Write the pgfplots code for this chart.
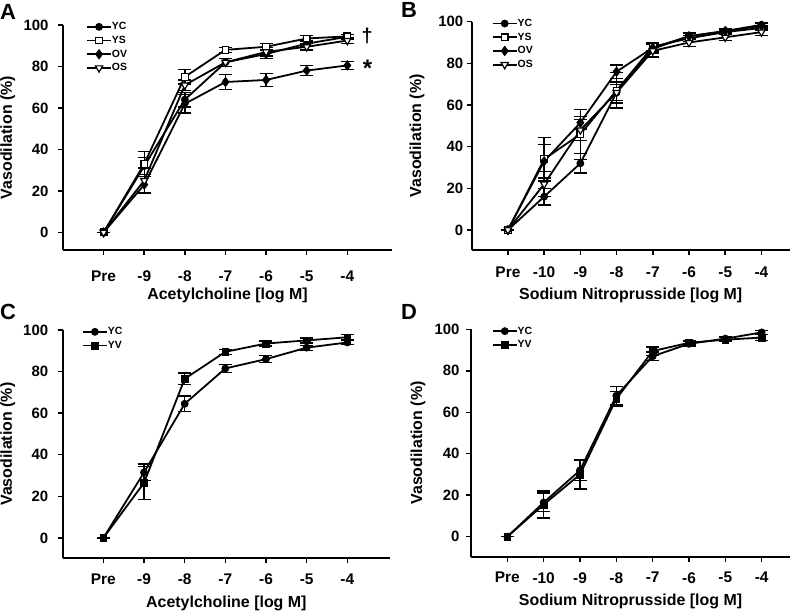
\documentclass[border=0pt]{standalone}
\usepackage{pgfplots}
\pgfplotsset{compat=1.18}
\usepackage{pgfplotstable}
\usepackage{fontspec}
\setmainfont{Liberation Sans}

% Panel A
\pgfplotstableread{
x y e
0 0 0
1 32 4
2 64 3.5
3 82 2
4 86 2
5 91 1.5
6 94.3 1.2
}\AYC
\pgfplotstableread{
x y e
0 0 0
1 33 6
2 75 3.5
3 88 1.2
4 89.5 1.5
5 93.5 1.5
6 94.5 1
}\AYS
\pgfplotstableread{
x y e
0 0 0
1 23 4
2 62 4.5
3 72.5 3.6
4 73.5 3
5 78 2.5
6 80.5 2
}\AOV
\pgfplotstableread{
x y e
0 0 0
1 25 6
2 71 2.5
3 82 2
4 87 2
5 89.5 1.5
6 92.5 1.5
}\AOS
% Panel B
\pgfplotstableread{
x y e
0 0 0
1 16 4
2 32 4.6
3 66 4
4 87 2
5 93 1.5
6 95.5 1
7 98.5 1
}\BYC
\pgfplotstableread{
x y e
0 0 0
1 34 10.5
2 46 12
3 67 8.5
4 88 2
5 92 1.5
6 95 1
7 97 1
}\BYS
\pgfplotstableread{
x y e
0 0 0
1 33 8
2 51.5 3
3 76 3.2
4 87.5 2
5 93 1.5
6 95.5 1
7 98 1
}\BOV
\pgfplotstableread{
x y e
0 0 0
1 22 6
2 48 5
3 66 5
4 86 3
5 90 2
6 92.5 1.5
7 95 1.5
}\BOS
% Panel C
\pgfplotstableread{
x y e
0 0 0
1 31.5 4
2 64.5 3.8
3 81.5 2
4 86 1.8
5 91.5 1.2
6 94 1
}\CYC
\pgfplotstableread{
x y e
0 0 0
1 26.5 8
2 76.5 2.8
3 89.5 1.2
4 93.5 1.2
5 95 1.2
6 96.5 1.2
}\CYV
% Panel D
\pgfplotstableread{
x y e
0 0 0
1 16.5 4.5
2 32 5
3 68 4.5
4 87 2
5 93 1
6 95.5 1
7 98.5 1
}\DYC
\pgfplotstableread{
x y e
0 0 0
1 15.5 6.5
2 30 7
3 66.5 3.5
4 89.5 2
5 93.5 1
6 95 1
7 96 1.5
}\DYV

\pgfplotsset{
  panel/.style={
    scale only axis,
    axis x line=bottom, axis y line=left,
    axis line style={-, line width=1.8bp},
    tick align=outside, major tick length=5bp,
    tick style={line width=1.5bp, black},
    xmin=-1, ymax=100,
    ytick={0,20,...,100},
    /pgf/number format/assume math mode=true,
    yticklabel style={font=\bfseries\fontsize{15}{15}\selectfont},
    xticklabel style={font=\bfseries\fontsize{15.5}{15.5}\selectfont, yshift=-7bp},
    xlabel style={font=\bfseries\fontsize{16}{16}\selectfont, at={(axis description cs:0.5,0)}, anchor=center, yshift=-45bp},
    ylabel style={font=\bfseries\fontsize{16}{16}\selectfont, anchor=center},
    clip=false,
    legend style={draw=none, fill=none, font=\bfseries\fontsize{10.5}{10.5}\selectfont, inner sep=0pt, row sep=0pt,
      nodes={inner sep=0pt, minimum height=13.7bp}},
    legend cell align=left,
    legend image code/.code={\draw[mark repeat=2,mark phase=2] plot coordinates {(0bp,0bp)(12bp,0bp)(24bp,0bp)};},
  },
  eb/.style={black, line width=1.8bp,
    error bars/y dir=both, error bars/y explicit,
    error bars/error bar style={line width=1.3bp},
    error bars/error mark options={rotate=90, mark size=6.5bp, line width=1.3bp}},
  mYC/.style={mark=*, mark size=3.6bp, mark options={fill=black, line width=0.6bp}},
  mYS/.style={mark=square*, mark size=3.3bp, mark options={fill=white, line width=1.2bp}},
  mOV/.style={mark=diamond*, mark size=4.8bp, mark options={fill=black, line width=0.6bp}},
  mOS/.style={mark=triangle*, mark size=4.2bp, mark options={fill=white, rotate=180, line width=1.2bp}},
  mYV/.style={mark=square*, mark size=3.4bp, mark options={fill=black, line width=0.6bp}},
}

\begin{document}
\begin{tikzpicture}[x=1bp,y=1bp]
\useasboundingbox (0,0) rectangle (800,616);

% Panel letters
\node[anchor=base west, inner sep=0pt, font=\bfseries\fontsize{22}{22}\selectfont] at (0,596) {A};
\node[anchor=base west, inner sep=0pt, font=\bfseries\fontsize{22}{22}\selectfont] at (401,598) {B};
\node[anchor=base west, inner sep=0pt, font=\bfseries\fontsize{22}{22}\selectfont] at (0,296) {C};
\node[anchor=base west, inner sep=0pt, font=\bfseries\fontsize{22}{22}\selectfont] at (401,296) {D};

% Panel A
\begin{axis}[panel, at={(63bp,366bp)}, anchor=south west, width=329bp, height=225bp,
  xmax=7.1, ymin=-8.5,
  xtick={0,...,6}, xticklabels={Pre,-9,-8,-7,-6,-5,-4},
  xticklabel style={yshift=-5bp}, yticklabel style={xshift=-6bp},
  xlabel={Acetylcholine [log M]}, ylabel={Vasodilation (\%)},
  ylabel style={at={(axis description cs:-0.168,0.5)}},
  legend style={at={(axis cs:-0.435,102.5)}, anchor=north west}]
\addplot[eb, mYC] table[x=x,y=y,y error=e]{\AYC}; \addlegendentry{YC}
\addplot[eb, mYS] table[x=x,y=y,y error=e]{\AYS}; \addlegendentry{YS}
\addplot[eb, mOV] table[x=x,y=y,y error=e]{\AOV}; \addlegendentry{OV}
\addplot[eb, mOS] table[x=x,y=y,y error=e]{\AOS}; \addlegendentry{OS}
\node[inner sep=0pt, font=\bfseries\fontsize{20}{20}\selectfont] at (axis cs:6.49,94.6) {\textdagger};
\node[anchor=north, inner sep=0pt, font=\bfseries\fontsize{24}{24}\selectfont] at (axis cs:6.5,83) {*};
\end{axis}

% Panel B
\begin{axis}[panel, at={(471.7bp,366bp)}, anchor=south west, width=318bp, height=228.3bp,
  xmax=7.78, ymin=-9.6,
  xtick={0,...,7}, xticklabels={Pre,-10,-9,-8,-7,-6,-5,-4},
  xticklabel style={yshift=-1bp},
  xlabel={Sodium Nitroprusside [log M]}, ylabel={Vasodilation (\%)},
  ylabel style={at={(axis description cs:-0.172,0.5)}},
  legend style={at={(axis cs:-0.45,102.5)}, anchor=north west}]
\addplot[eb, mYC] table[x=x,y=y,y error=e]{\BYC}; \addlegendentry{YC}
\addplot[eb, mYS] table[x=x,y=y,y error=e]{\BYS}; \addlegendentry{YS}
\addplot[eb, mOV] table[x=x,y=y,y error=e]{\BOV}; \addlegendentry{OV}
\addplot[eb, mOS] table[x=x,y=y,y error=e]{\BOS}; \addlegendentry{OS}
\end{axis}

% Panel C
\begin{axis}[panel, at={(62.7bp,57.7bp)}, anchor=south west, width=327.3bp, height=228.3bp,
  xmax=7.05, ymin=-9.8,
  xtick={0,...,6}, xticklabels={Pre,-9,-8,-7,-6,-5,-4},
  yticklabel style={xshift=-6bp},
  xlabel={Acetylcholine [log M]}, ylabel={Vasodilation (\%)},
  ylabel style={at={(axis description cs:-0.168,0.5)}},
  legend style={at={(axis cs:-0.53,102.5)}, anchor=north west}]
\addplot[eb, mYC] table[x=x,y=y,y error=e]{\CYC}; \addlegendentry{YC}
\addplot[eb, mYV] table[x=x,y=y,y error=e]{\CYV}; \addlegendentry{YV}
\end{axis}

% Panel D
\begin{axis}[panel, at={(471bp,59.3bp)}, anchor=south west, width=319bp, height=227.4bp,
  xmax=7.78, ymin=-9.64,
  xtick={0,...,7}, xticklabels={Pre,-10,-9,-8,-7,-6,-5,-4},
  yticklabel style={xshift=-3bp},
  xlabel={Sodium Nitroprusside [log M]}, ylabel={Vasodilation (\%)},
  ylabel style={at={(axis description cs:-0.166,0.5)}},
  legend style={at={(axis cs:-0.43,102.5)}, anchor=north west}]
\addplot[eb, mYC] table[x=x,y=y,y error=e]{\DYC}; \addlegendentry{YC}
\addplot[eb, mYV] table[x=x,y=y,y error=e]{\DYV}; \addlegendentry{YV}
\end{axis}
\end{tikzpicture}
\end{document}
